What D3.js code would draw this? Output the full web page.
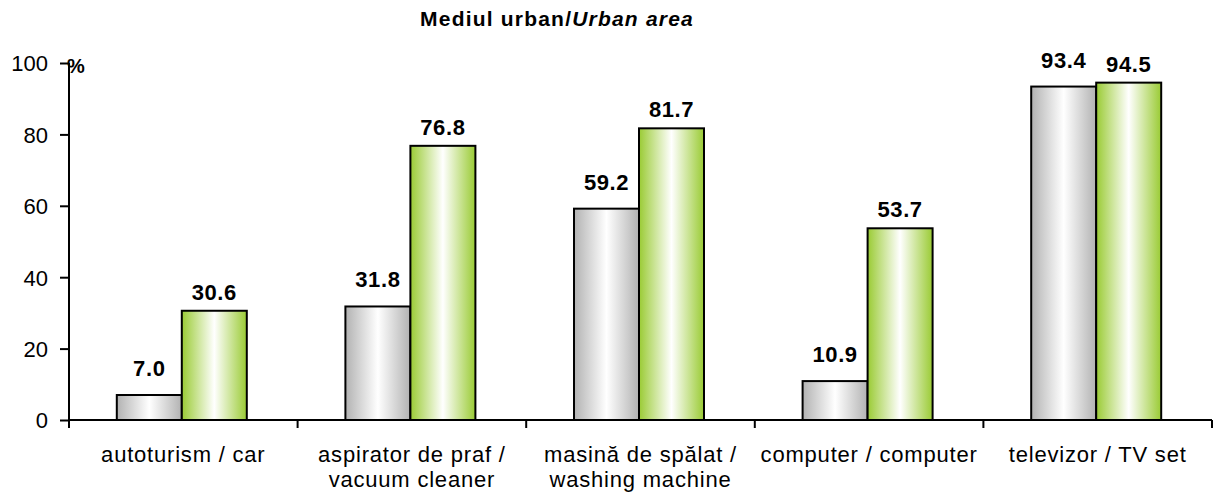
<!DOCTYPE html>
<html><head><meta charset="utf-8">
<script src="https://cdn.jsdelivr.net/npm/d3@7"></script>
<style>
body{margin:0;background:#fff;}
text{font-family:"Liberation Sans",Arial,sans-serif;fill:#000;}
</style></head>
<body><svg id="c" width="1216" height="497"></svg>
<script>
const categories = [
  ["autoturism / car"],
  ["aspirator de praf /", "vacuum cleaner"],
  ["masină de spălat /", "washing machine"],
  ["computer / computer"],
  ["televizor / TV set"]
];
const seriesNames = ["s1", "s2"];
const series1 = [7.0, 31.8, 59.2, 10.9, 93.4];
const series2 = [30.6, 76.8, 81.7, 53.7, 94.5];
const yTicks = [0, 20, 40, 60, 80, 100];
const title = "Mediul urban/";
const titleItalic = "Urban area";
const unitLabel = "%";

const svg = d3.select("#c");
const m = {left: 69, right: 1212, top: 63, bottom: 420};

const defs = svg.append("defs");
function grad(id, c) {
  const g = defs.append("linearGradient").attr("id", id).attr("x1", "0%").attr("x2", "100%");
  g.append("stop").attr("offset", "0%").attr("stop-color", c);
  g.append("stop").attr("offset", "50%").attr("stop-color", "#ffffff");
  g.append("stop").attr("offset", "100%").attr("stop-color", c);
}
grad("g1", "#b2b2b2");
grad("g2", "#9acb34");

const x0 = d3.scaleBand().domain(d3.range(categories.length)).range([m.left, m.right]).padding(0);
const x1 = d3.scaleBand().domain(seriesNames).range([0, 130]);
const off = (x0.bandwidth() - 130) / 2 - 1.5;
const y = d3.scaleLinear().domain([0, 100]).range([m.bottom, m.top]);

// bars
const data = [series1, series2];
const fills = ["url(#g1)", "url(#g2)"];
const gaps = [19, 11];
data.forEach((vals, si) => {
  svg.append("g").selectAll("rect").data(vals).join("rect")
    .attr("x", (d, i) => x0(i) + off + x1(seriesNames[si]))
    .attr("y", d => y(d))
    .attr("width", x1.bandwidth())
    .attr("height", d => y(0) - y(d))
    .attr("fill", fills[si])
    .attr("stroke", "#000").attr("stroke-width", 2);
  svg.append("g").selectAll("text").data(vals).join("text")
    .attr("x", (d, i) => x0(i) + off + x1(seriesNames[si]) + x1.bandwidth() / 2)
    .attr("y", d => y(d) - gaps[si])
    .attr("text-anchor", "middle")
    .style("font-size", "22px").style("font-weight", "bold").style("letter-spacing", "0.6px")
    .text(d => d.toFixed(1));
});

// y axis
const ya = svg.append("g").attr("transform", `translate(${m.left},0)`)
  .call(d3.axisLeft(y).tickValues(yTicks).tickSize(9).tickPadding(12).tickFormat(d3.format("d")));
ya.select(".domain").attr("stroke", "#000").attr("stroke-width", 2).attr("d", `M0,${m.top}V${m.bottom + 8}`);
ya.selectAll(".tick line").attr("stroke", "#000").attr("stroke-width", 2);
ya.selectAll(".tick text").style("font-size", "22px").style("font-family", "Liberation Sans, Arial, sans-serif").attr("dy", "0.36em");

// x axis
const xa = svg.append("g").attr("transform", `translate(0,${m.bottom})`);
xa.append("path").attr("d", `M${m.left},0H${m.right}`).attr("stroke", "#000").attr("stroke-width", 2);
const tickXs = d3.range(categories.length + 1).map(i => i < categories.length ? x0(i) : m.right);
xa.selectAll("line.t").data(tickXs).join("line").attr("class", "t")
  .attr("x1", d => d).attr("x2", d => d).attr("y1", 0).attr("y2", 8)
  .attr("stroke", "#000").attr("stroke-width", 2);
const cl = xa.selectAll("text.c").data(categories).join("text").attr("class", "c")
  .attr("text-anchor", "middle")
  .style("font-size", "22px").style("letter-spacing", "0.8px");
cl.each(function(lines, i) {
  const t = d3.select(this);
  lines.forEach((ln, k) => {
    t.append("tspan").attr("x", x0(i) + x0.bandwidth() / 2).attr("y", 42 + k * 25).text(ln);
  });
});

// title
const tt = svg.append("text").attr("x", 557).attr("y", 26).attr("text-anchor", "middle")
  .style("font-size", "21px").style("font-weight", "bold").style("letter-spacing", "1.2px");
tt.append("tspan").text(title);
tt.append("tspan").style("font-style", "italic").text(titleItalic);

// unit
svg.append("text").attr("x", 67).attr("y", 73)
  .style("font-size", "20px").style("font-weight", "bold").text(unitLabel);
</script></body></html>
